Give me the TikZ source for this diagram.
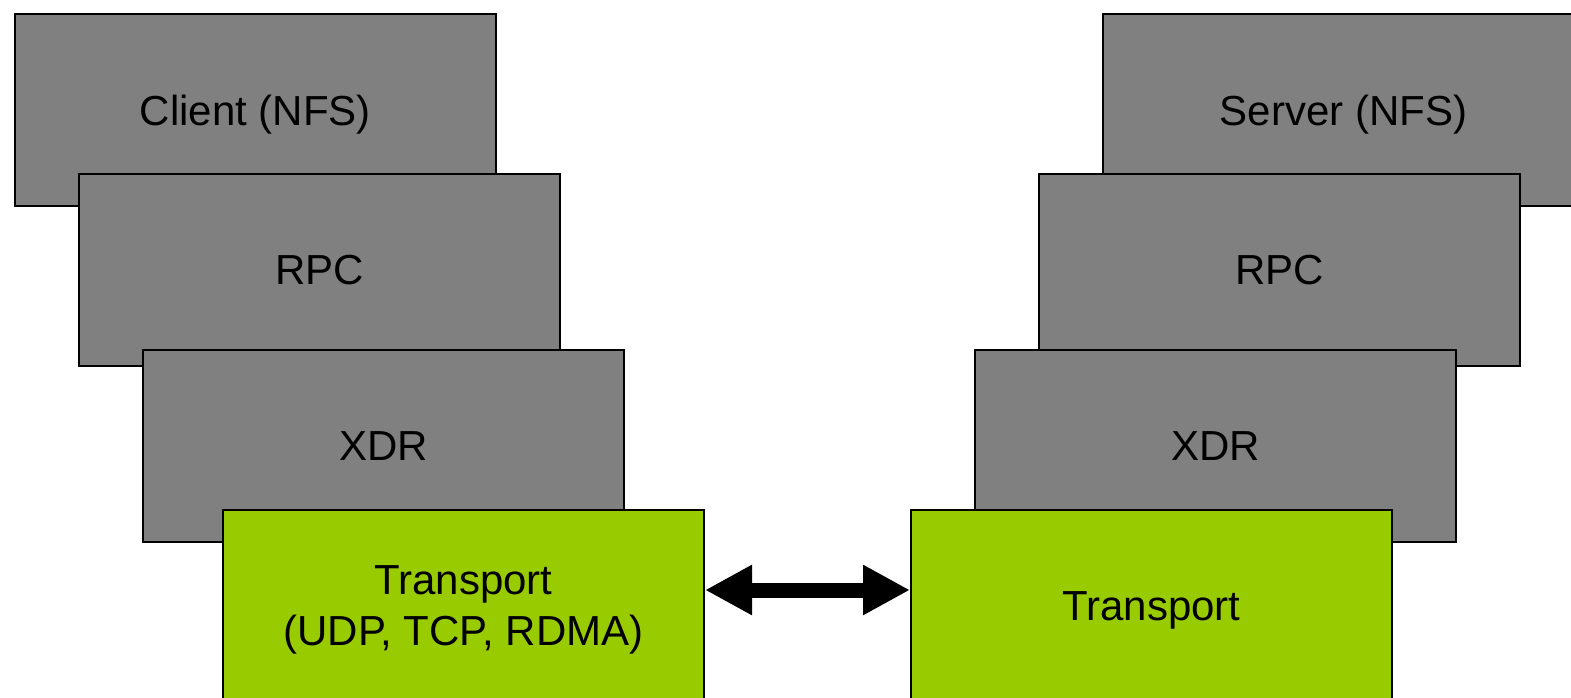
\documentclass[tikz,border=0pt]{standalone}
\usepackage{fontspec}
\setmainfont{Liberation Sans}
\usetikzlibrary{arrows.meta}
\definecolor{layergray}{HTML}{808080}
\definecolor{layergreen}{HTML}{99CC00}
\tikzset{
  layer/.style={draw=black, line width=2pt, fill=layergray, anchor=north west,
    minimum width=481pt, minimum height=192pt, inner sep=0pt, text depth=-4pt,
    align=center, font=\fontsize{42}{51}\selectfont},
  transport/.style={layer, fill=layergreen},
  link/.style={line width=15pt, {Triangle[length=47pt,width=47pt]}-{Triangle[length=47pt,width=47pt]}}
}
\begin{document}
\begin{tikzpicture}[x=1pt, y=-1pt]
\useasboundingbox (0,0) rectangle (1571,698);
% client stack
\node[layer] (cnfs) at (14,13) {Client (NFS)};
\node[layer] (crpc) at (78,173) {RPC};
\node[layer] (cxdr) at (142,349) {XDR};
\node[transport] (ctr) at (222,509) {Transport\\(UDP, TCP, RDMA)};
% server stack
\node[layer] (snfs) at (1102,13) {Server (NFS)};
\node[layer] (srpc) at (1038,173) {RPC};
\node[layer] (sxdr) at (974,349) {XDR};
\node[transport] (str) at (910,509) {Transport};
% link between the transports
\coordinate (la) at ([yshift=16pt]ctr.east);
\coordinate (lb) at ([yshift=16pt]str.west);
\draw[link] (la) -- (lb);
\end{tikzpicture}
\end{document}
